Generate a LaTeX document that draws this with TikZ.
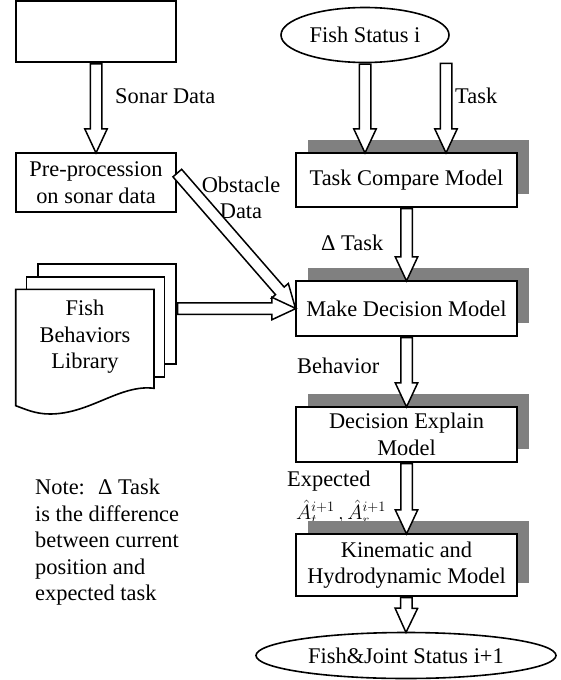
\documentclass[tikz,border=0pt]{standalone}
\usepackage{fontspec}
\setmainfont{Liberation Serif}
\usetikzlibrary{shapes.geometric,shapes.arrows,shadows,calc}

\tikzset{
  model/.style={draw, fill=white, line width=1.6pt, inner sep=0pt, align=center,
    minimum width=221pt, drop shadow={shadow xshift=12pt, shadow yshift=13pt, fill=gray, opacity=1}},
  plainbox/.style={draw, fill=white, line width=1.6pt, inner sep=0pt, align=center, minimum width=160pt},
  status/.style={ellipse, draw, fill=white, line width=1.6pt, inner sep=0pt},
  sheet/.style={draw, fill=white, line width=1.6pt, inner sep=0pt},
  fatarrow/.style={single arrow, draw, fill=white, line width=1.5pt, inner sep=0pt, inner ysep=5pt,
    single arrow head extend=5.5pt, single arrow tip angle=50, single arrow head indent=0pt, minimum width=0pt},
  lbl/.style={inner sep=0pt, anchor=west}
}

% hollow block arrow from #1 to #2
\newcommand{\fatarrow}[2]{%
  \path let \p1=(#1), \p3=($(#2)-(#1)$), \n1={veclen(\x3,\y3)}, \n2={atan2(\y3,\x3)} in
    (\p1) node[fatarrow, minimum height=\n1, rotate=\n2, anchor=tail] {};}

\begin{document}
\begin{tikzpicture}[x=1pt, y=-1pt, every node/.style={font=\fontsize{22.4}{26.5}\selectfont}]
\useasboundingbox (0,0) rectangle (561,680);

% labels on the arrows
\node[lbl] (sonarlbl) at (115,96) {Sonar Data};
\node[lbl] (tasklbl) at (455,96) {Task};
\node[inner sep=0pt, align=center] (obstlbl) at (241,198) {Obstacle\\Data};
\node[lbl] (deltalbl) at (321,243) {Δ Task};
\node[lbl] (behavlbl) at (297,366) {Behavior};
\node[lbl] (explbl) at (287,481) {Expected};
\node[lbl] (anglbl) at (296,512) {$\hat{A}_t^{i+1}\,,\hat{A}_r^{i+1}$};
\node[align=left, inner sep=0pt, anchor=north west] (note) at (35,479) {Note:~ Δ Task\\is the difference\\between current\\position and\\expected task};

% sonar source and preprocessing
\node[plainbox, minimum height=61.5pt] (sonar) at (96,31.5) {};
\node[plainbox, minimum height=59pt] (pre) at (96,182.5) {Pre-procession\\on sonar data};

% fish behaviors library
\node[sheet, minimum width=138pt, minimum height=100pt] (libback) at (107,314) {};
\node[sheet, minimum width=138pt, minimum height=100pt] (libmid) at (95.5,326.7) {};
\draw[sheet] (15.7,289.3) -- (154,289.3) -- (154,388.3) .. controls (120,384) and (90,414) .. (50,414)
  .. controls (35,414) and (25,409) .. (15.7,405.7) -- cycle;
\node[align=center, inner sep=0pt] (lib) at (85,337) {Fish\\Behaviors\\Library};

% status ellipses
\node[status, minimum width=168pt, minimum height=55pt] (fishst) at (365,35) {Fish Status i};
\coordinate (taskin) at (446,62.5);

% models
\node[model, minimum height=54pt] (compare) at (406.5,180) {Task Compare Model};
\node[model, minimum height=55pt] (decide) at (406.5,308.5) {Make Decision Model};
\node[model, minimum height=55pt] (explain) at (406.5,434.5) {Decision Explain\\Model};
\node[model, minimum height=62pt] (kin) at (406.5,565) {Kinematic and\\Hydrodynamic Model};
\node[status, minimum width=300pt, minimum height=46pt] (fishjt) at (406,655.5) {Fish\&Joint Status i+1};

% arrows
\fatarrow{sonar.south}{pre.north}
\fatarrow{fishst.south}{fishst.south |- compare.north}
\fatarrow{taskin}{taskin |- compare.north}
\fatarrow{compare.south}{decide.north}
\fatarrow{[yshift=10pt]pre.east}{decide.west}
\fatarrow{libback.east |- decide.west}{decide.west}
\fatarrow{decide.south}{explain.north}
\fatarrow{explain.south}{kin.north}
\fatarrow{kin.south}{fishjt.north}

\end{tikzpicture}
\end{document}
